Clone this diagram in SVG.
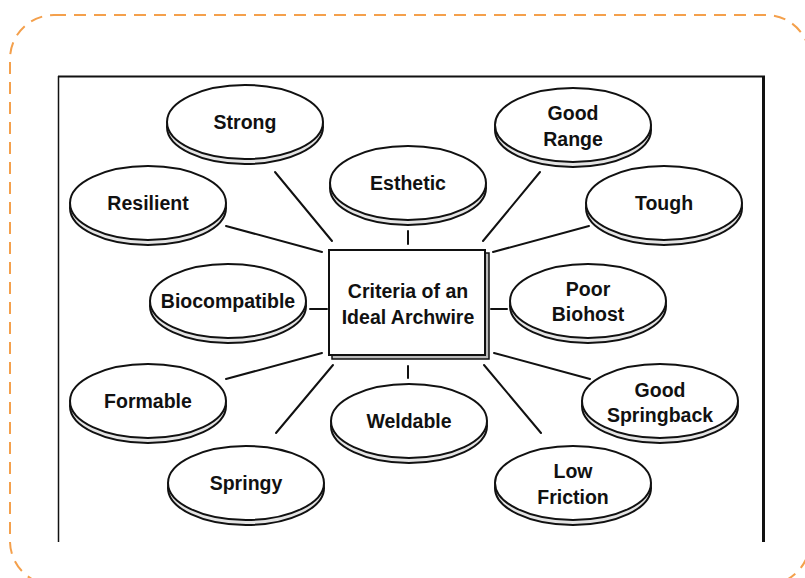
<svg xmlns="http://www.w3.org/2000/svg" width="805" height="578" viewBox="0 0 805 578">
  <style>
    .disk-back { fill: #e4e4e4; stroke: #111; stroke-width: 2; }
    .disk { fill: #fff; stroke: #111; stroke-width: 2; }
    .label { font-family: "Liberation Sans", Arial, sans-serif; font-weight: bold; font-size: 19.5px; fill: #111; text-anchor: middle; }
    .conn line { stroke: #111; stroke-width: 2; stroke-linecap: round; }
  </style>
  <defs>
    <!-- two-layer disk: a slightly lower rim under a white face -->
    <g id="disk">
      <ellipse class="disk-back" cx="0" cy="5" rx="78" ry="37"/>
      <ellipse class="disk" cx="0" cy="0" rx="78" ry="37"/>
    </g>
  </defs>

  <rect width="805" height="578" fill="#fff"/>

  <!-- outer dashed card -->
  <rect x="10" y="15" width="800" height="570" rx="44" ry="44" fill="none" stroke="#f4a04c" stroke-width="2" stroke-dasharray="12 8"/>

  <!-- figure frame (open at the bottom) -->
  <g id="frame" fill="none" stroke="#111">
    <line x1="58" y1="76.5" x2="765" y2="76.5" stroke-width="2"/>
    <line x1="58.5" y1="76" x2="58.5" y2="542" stroke-width="1.5"/>
    <line x1="763.5" y1="76" x2="763.5" y2="542" stroke-width="3"/>
  </g>

  <!-- connectors -->
  <g id="connectors" class="conn">
    <line x1="275" y1="172" x2="332" y2="241"/>
    <line x1="540" y1="172" x2="483" y2="241"/>
    <line x1="408" y1="231" x2="408" y2="244"/>
    <line x1="226" y1="226" x2="322" y2="252"/>
    <line x1="589" y1="226" x2="493" y2="252"/>
    <line x1="310" y1="309" x2="327" y2="309"/>
    <line x1="491" y1="309" x2="507" y2="309"/>
    <line x1="226" y1="379" x2="322" y2="353"/>
    <line x1="494" y1="353" x2="590" y2="379"/>
    <line x1="408" y1="366" x2="408" y2="378"/>
    <line x1="333" y1="365" x2="276" y2="433"/>
    <line x1="484" y1="365" x2="541" y2="433"/>
  </g>

  <!-- central box -->
  <g id="center">
    <rect x="332" y="253" width="157" height="106" fill="#bbb" stroke="#111" stroke-width="1.5"/>
    <rect x="329" y="250" width="156" height="105" fill="#fff" stroke="#111" stroke-width="2"/>
    <text class="label" x="408" y="298">Criteria of an</text>
    <text class="label" x="408" y="324">Ideal Archwire</text>
  </g>

  <g id="strong" transform="translate(245,122)"><use href="#disk"/><text class="label" y="7">Strong</text></g>
  <g id="good-range" transform="translate(573,125)"><use href="#disk"/><text class="label" y="-5">Good</text><text class="label" y="21">Range</text></g>
  <g id="esthetic" transform="translate(408,183)"><use href="#disk"/><text class="label" y="7">Esthetic</text></g>
  <g id="resilient" transform="translate(148,203)"><use href="#disk"/><text class="label" y="7">Resilient</text></g>
  <g id="tough" transform="translate(664,203)"><use href="#disk"/><text class="label" y="7">Tough</text></g>
  <g id="biocompatible" transform="translate(228,301)"><use href="#disk"/><text class="label" y="7">Biocompatible</text></g>
  <g id="poor-biohost" transform="translate(588,301)"><use href="#disk"/><text class="label" y="-5">Poor</text><text class="label" y="20">Biohost</text></g>
  <g id="formable" transform="translate(148,401)"><use href="#disk"/><text class="label" y="7">Formable</text></g>
  <g id="good-springback" transform="translate(660,401)"><use href="#disk"/><text class="label" y="-4">Good</text><text class="label" y="21">Springback</text></g>
  <g id="weldable" transform="translate(409,421)"><use href="#disk"/><text class="label" y="7">Weldable</text></g>
  <g id="springy" transform="translate(246,483)"><use href="#disk"/><text class="label" y="7">Springy</text></g>
  <g id="low-friction" transform="translate(573,483)"><use href="#disk"/><text class="label" y="-5">Low</text><text class="label" y="21">Friction</text></g>
</svg>
